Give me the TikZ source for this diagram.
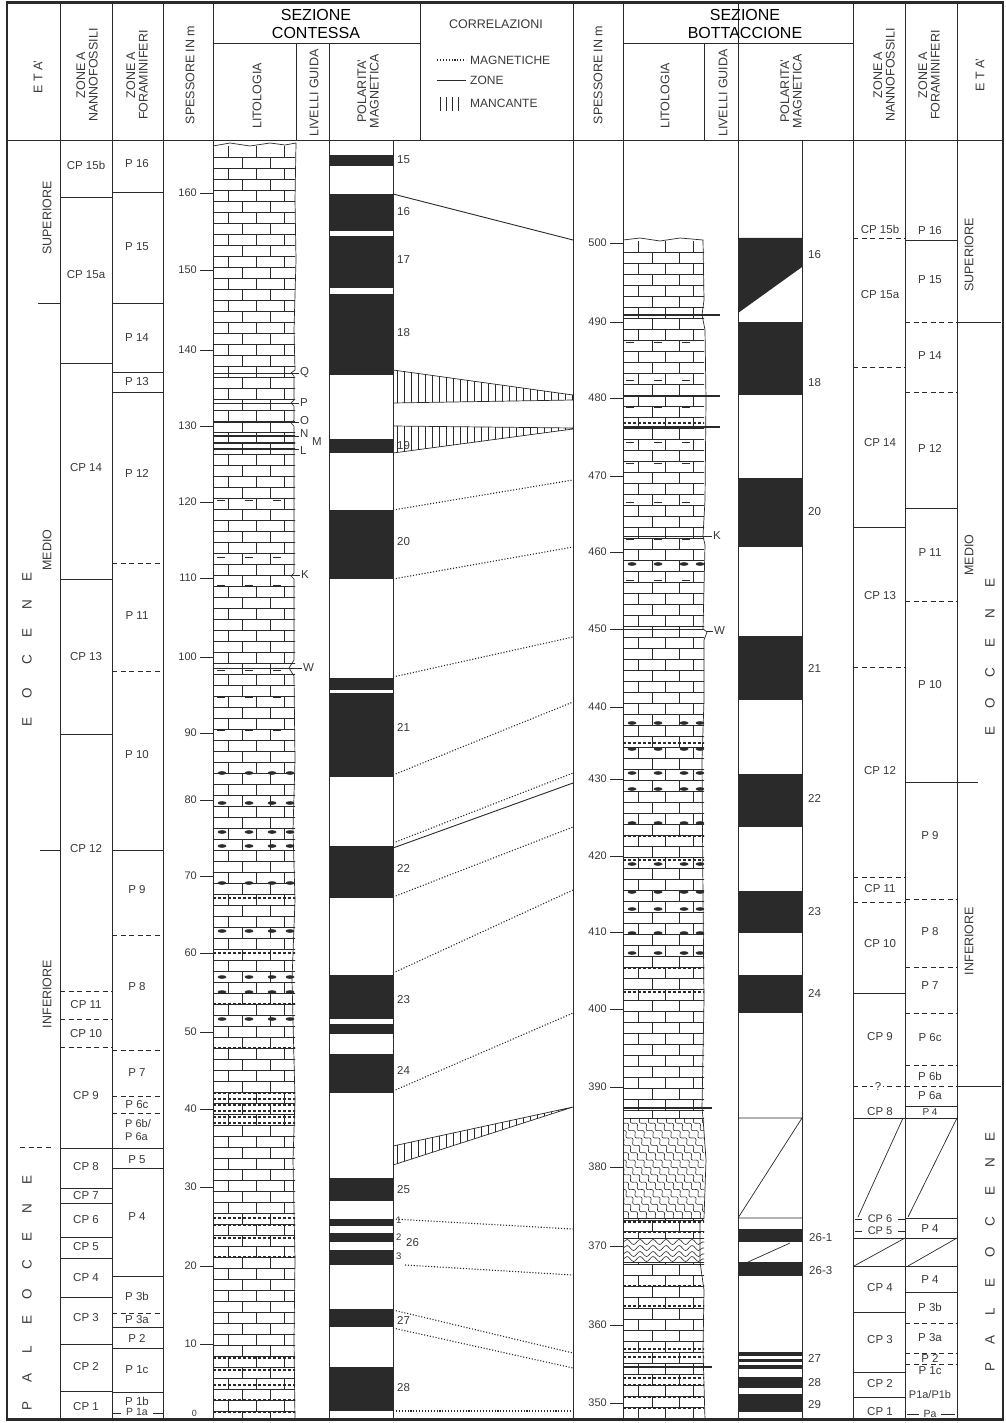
\documentclass[tikz,border=0pt]{standalone}
\usepackage{fontspec}
\setmainfont{Liberation Sans}
\usetikzlibrary{decorations.pathmorphing}
\definecolor{ink}{HTML}{2A2A2A}
\definecolor{txt}{HTML}{3A3A3A}
\begin{document}
\begin{tikzpicture}[x=1pt,y=-1pt,
  ln/.style={draw=ink,line width=0.7pt},
  br/.style={draw=ink,line width=0.55pt},
  bd/.style={draw=ink,line width=0.9pt},
  dsh/.style={draw=ink,line width=0.9pt,dash pattern=on 5pt off 3.5pt},
  dotl/.style={draw=ink,line width=1.1pt,dash pattern=on 1.1pt off 1.8pt},
  zl/.style={font=\fontsize{11.5}{12}\selectfont,text=txt,inner sep=0pt},
  tk/.style={font=\fontsize{11}{11}\selectfont,text=txt,anchor=east,inner sep=0pt},
  pl/.style={font=\fontsize{11.5}{12}\selectfont,text=txt,anchor=west,inner sep=0pt},
  gl/.style={font=\fontsize{11.5}{12}\selectfont,text=txt,anchor=west,inner sep=0pt},
  hd/.style={font=\fontsize{12.5}{12.5}\selectfont,text=txt,rotate=90,align=center,inner sep=0pt},
  sez/.style={font=\fontsize{16}{18}\selectfont,text=black,align=center,inner sep=0pt},
  leg/.style={font=\fontsize{12}{12}\selectfont,text=txt,anchor=west,inner sep=0pt},
  eta/.style={font=\fontsize{12.5}{12.5}\selectfont,text=txt,rotate=90,inner sep=0pt},
  ep/.style={font=\fontsize{13.5}{13.5}\selectfont,text=txt,rotate=90,inner sep=0pt},
  blk/.style={fill=ink},
  hatchl/.style={draw=ink,line width=0.6pt},
  chert/.style={fill=ink},
  mdash/.style={draw=ink,line width=1.3pt,dash pattern=on 3pt off 2pt}]
\useasboundingbox (0,0) rectangle (1005,1423);
\fill[white] (0,0) rectangle (1005,1423);

% ================= LEFT LITHOLOGY (Contessa) =================
\begin{scope}
\clip (213,146) rectangle (295,1420);
\foreach \k in {0,...,115}{
  \pgfmathsetmacro\ya{146+11*\k}
  \pgfmathsetmacro\yb{\ya+11}
  \draw[br] (213,\yb)--(296,\yb);
  \ifodd\k\relax
    \draw[br] (242,\ya)--(242,\yb) (270,\ya)--(270,\yb);
  \else
    \draw[br] (228,\ya)--(228,\yb) (256,\ya)--(256,\yb) (284,\ya)--(284,\yb);
  \fi
}
\foreach \y in {245,267,500,557,585,670,697,730}
  \foreach \x in {221,249,277} \draw[br,line width=0.8pt] (\x-4,\y)--(\x+4,\y);
\foreach \y in {773,803,832,846,883,931,977,992,1019}
  \foreach \x in {222,249,272,290} \fill[chert] (\x,\y) ellipse (4.5 and 1.8);
\foreach \y in {898,953,1004,1048,1093,1099,1105,1111,1117,1123,1218,1225,1238,1257,1358,1370,1385,1400,1412}
  \draw[mdash] (213,\y)--(296,\y);
\draw[bd] (213,373)--(296,373) (213,403)--(296,403) (213,422)--(296,422) (213,575)--(296,575) (213,668)--(296,668);
\draw[draw=ink,line width=1.6pt] (213,436)--(296,436) (213,443)--(296,443) (213,449)--(296,449);
\end{scope}
\draw[ln] (213,146)--(230,143)--(250,146)--(270,143)--(285,145)--(296,143)
  --(295,200)--(296,260)--(294,330)--(295,370)--(291,373)--(294,376)--(294,400)--(291,403)--(294,406)
  --(294,420)--(291,423)--(294,426)--(294,573)--(291,576)--(294,579)--(294,660)--(289,668)--(294,676)
  --(295,760)--(293,830)--(295,900)--(292,980)--(295,1100)--(293,1160)--(295,1260)--(294,1340)--(295,1420);

\draw[ln] (294,373)--(299,373) (294,403)--(299,403) (294,422)--(299,422) (294,436)--(299,436) (294,449)--(299,449) (294,575)--(300,575) (290,668)--(302,668);
\node[gl] (gQ) at (300,373) {Q};
\node[gl] (gP) at (300,403) {P};
\node[gl] (gO) at (300,421) {O};
\node[gl] (gN) at (300,434) {N};
\node[gl] (gM) at (312,442) {M};
\node[gl] (gL) at (300,451) {L};
\node[gl] (gK) at (301,575) {K};
\node[gl] (gW) at (303,668) {W};

% ================= RIGHT LITHOLOGY (Bottaccione) =================
\begin{scope}
\clip (623,241) rectangle (704,1420);
\foreach \k in {0,...,107}{
  \pgfmathsetmacro\ya{241+11*\k}
  \pgfmathsetmacro\yb{\ya+11}
  \draw[br] (623,\yb)--(706,\yb);
  \ifodd\k\relax
    \draw[br] (652,\ya)--(652,\yb) (679,\ya)--(679,\yb);
  \else
    \draw[br] (638,\ya)--(638,\yb) (665,\ya)--(665,\yb) (693,\ya)--(693,\yb);
  \fi
}
\foreach \y in {342,351,380,407,442,463,502,539,580}
  \foreach \x in {630,658,686} \draw[br,line width=0.8pt] (\x-4,\y)--(\x+4,\y);
\foreach \y in {564,723,749,773,789,823,864,892,909,933,953}
  \foreach \x in {632,658,684,700} \fill[chert] (\x,\y) ellipse (4.5 and 1.8);
\foreach \y in {423,743,836,860,968,992,1222,1232,1286,1306,1349,1357,1378,1385,1397,1408}
  \draw[mdash] (623,\y)--(706,\y);
\fill[white] (623,1118) rectangle (706,1218);
\begin{scope}
\clip (623,1118) rectangle (706,1218);
\foreach \s in {-120,-111,...,90}
  \draw[draw=ink,line width=0.6pt,decorate,decoration={snake,amplitude=2pt,segment length=10pt}] (623+\s,1108) -- (733+\s,1228);
\end{scope}
\fill[white] (623,1238) rectangle (706,1262);
\foreach \y in {1242,1248,1254,1259}
  \draw[draw=ink,line width=0.6pt,decorate,decoration={snake,amplitude=2.5pt,segment length=13pt}] (623,\y)--(706,\y);
\draw[bd] (623,1118)--(706,1118) (623,1218)--(706,1218) (623,1238)--(706,1238) (623,1262)--(706,1262) (623,536)--(706,536) (623,629)--(706,629);
\draw[draw=ink,line width=1.6pt] (623,315)--(706,315) (623,396)--(706,396) (623,427)--(706,427) (623,1108)--(706,1108) (623,1367)--(706,1367);
\end{scope}
\draw[ln] (623,240)--(640,238)--(660,241)--(680,238)--(703,240)--(704,300)--(702,315)--(705,330)--(706,400)
  --(705,500)--(703,536)--(705,545)--(703,629)--(707,632)--(704,640)--(704,700)--(702,760)--(703,900)
  --(704,1000)--(702,1108)--(703,1118)--(706,1160)--(704,1218)--(700,1222)--(700,1262)--(704,1290)--(703,1350)--(705,1420);
\draw[draw=ink,line width=1.6pt] (703,315)--(720,315) (703,396)--(720,396) (703,427)--(720,427) (703,1108)--(712,1108) (703,1367)--(712,1367);
\draw[ln] (704,536)--(712,536) (707,631)--(713,631);
\node[gl] (rK) at (713,536) {K};
\node[gl] (rW) at (714,631) {W};

% ================= GRID LINES =================
\foreach \x in {60,112,163,213,573,623,738,853,905,957} \draw[ln] (\x,3)--(\x,1418);
\draw[ln] (420,3)--(420,140);
\draw[ln] (296,43)--(296,140) (329,43)--(329,140) (704,43)--(704,140);
\draw[ln] (329,140)--(329,1418) (393,140)--(393,1418) (802,140)--(802,1418);
\draw[ln] (8,140)--(1003,140);
\draw[ln] (213,43)--(420,43) (623,43)--(853,43);

% ================= HEADER TEXT =================
\node[hd] (hEtaL) at (38,77) {E T A'};
\node[hd] (hNanL) at (87,75) {ZONE A\\NANNOFOSSILI};
\node[hd] (hForL) at (137,75) {ZONE A\\FORAMINIFERI};
\node[hd] (hSpeL) at (190,75) {SPESSORE IN m};
\node[sez] (hSezL) at (316,24) {SEZIONE\\CONTESSA};
\node[hd] (hLitL) at (257,96) {LITOLOGIA};
\node[hd] (hLivL) at (314,93) {LIVELLI GUIDA};
\node[hd] (hPolL) at (368,91) {POLARITA'\\MAGNETICA};
\node[leg,anchor=center,font=\fontsize{12.5}{12.5}\selectfont] (hCor) at (496,24) {CORRELAZIONI};
\draw[dotl] (437,60)--(466,60);
\draw[bd] (437,80)--(466,80);
\foreach \x in {440,446,452,458} \draw[hatchl] (\x,97)--(\x,111);
\node[leg] (lMag) at (470,60) {MAGNETICHE};
\node[leg] (lZon) at (470,80) {ZONE};
\node[leg] (lMan) at (470,103) {MANCANTE};
\node[hd] (hSpeR) at (598,75) {SPESSORE IN m};
\node[sez] (hSezR) at (745,24) {SEZIONE\\BOTTACCIONE};
\node[hd] (hLitR) at (665,96) {LITOLOGIA};
\node[hd] (hLivR) at (723,93) {LIVELLI GUIDA};
\node[hd] (hPolR) at (791,91) {POLARITA'\\MAGNETICA};
\node[hd] (hNanR) at (884,75) {ZONE A\\NANNOFOSSILI};
\node[hd] (hForR) at (929,75) {ZONE A\\FORAMINIFERI};
\node[hd] (hEtaR) at (980,75) {E T A'};

% ================= THICKNESS SCALES =================
\foreach \v/\y in {160/193,150/270,140/350,130/426,120/502,110/578,100/657,90/733,80/800,70/876,60/953,50/1032,40/1109,30/1187,20/1266,10/1344}{
  \node[tk] (tl\v) at (197,\y) {\v};
  \draw[ln] (200,\y)--(213,\y);
}
\node[tk,font=\fontsize{9}{9}\selectfont] (tl0) at (197,1413) {0};
\foreach \v/\y in {500/243,490/322,480/398,470/476,460/552,450/629,440/707,430/779,420/856,410/932,400/1009,390/1087,380/1167,370/1246,360/1325,350/1403}{
  \node[tk] (tr\v) at (607,\y) {\v};
  \draw[ln] (610,\y)--(623,\y);
}

% ================= POLARITY LEFT =================
\foreach \a/\b in {155/166,194/231,236/288,294/375,439/453,510/579,678/690,693/777,846/898,975/1019,1024/1034,1054/1093,1178/1201,1219/1226,1233/1242,1250/1265,1309/1327,1367/1411}
  \fill[blk] (329,\a) rectangle (393,\b);
\foreach \t/\y [count=\i] in {15/160,16/212,17/260,18/333,19/446,20/542,21/727,22/868,23/1000,24/1070,25/1190,27/1320,28/1388}
  \node[pl] (pL\i) at (397,\y) {\t};
\node[pl,font=\fontsize{9.5}{9.5}\selectfont] (pL1a) at (396,1220) {1};
\node[pl,font=\fontsize{9.5}{9.5}\selectfont] (pL2a) at (396,1237) {2};
\node[pl] (pL26) at (406,1243) {26};
\node[pl,font=\fontsize{9.5}{9.5}\selectfont] (pL3a) at (396,1256) {3};

% ================= POLARITY RIGHT =================
\fill[blk] (738,238)--(802,238)--(802,267)--(738,313)--cycle;
\foreach \a/\b in {322/395,478/547,636/700,774/827,891/933,975/1013,1229/1242,1262/1276,1352/1356,1359/1362,1365/1369,1377/1388,1394/1412}
  \fill[blk] (738,\a) rectangle (802,\b);
\draw[ln] (738,1118)--(802,1118) (738,1218)--(802,1218) (738,1218)--(802,1118) (748,1262)--(790,1243);
\foreach \t/\y [count=\i] in {16/255,18/383,20/512,21/668,22/798,23/912,24/993,27/1358,28/1383,29/1405}
  \node[pl] (pR\i) at (808,\y) {\t};
\node[pl] (pR261) at (809,1238) {26-1};
\node[pl] (pR263) at (809,1271) {26-3};

% ================= CORRELATIONS =================
\begin{scope}
\clip (393,370)--(573,395)--(573,400)--(393,403)--cycle;
\foreach \x in {397,404,...,573} \draw[hatchl] (\x,360)--(\x,410);
\end{scope}
\draw[ln] (393,370)--(573,395) (393,403)--(573,400) (573,395)--(573,400);
\begin{scope}
\clip (393,426)--(573,428)--(573,429)--(393,453)--cycle;
\foreach \x in {397,404,...,573} \draw[hatchl] (\x,420)--(\x,460);
\end{scope}
\draw[ln] (393,426)--(573,428) (393,453)--(573,429);
\begin{scope}
\clip (393,1146)--(573,1107)--(393,1165)--cycle;
\foreach \x in {397,404,...,573} \draw[hatchl] (\x,1100)--(\x,1170);
\end{scope}
\draw[ln] (393,1146)--(573,1107) (393,1165)--(573,1107);
\foreach \i/\ya/\yb in {1/510/480,2/579/547,3/677/637,4/775/702,5/843/773,6/897/827,7/973/890,8/1091/1013,9/1219/1229,10/1310/1353,11/1328/1368,12/1411/1411}{
  \coordinate (cl\i) at (393,\ya);
  \coordinate (cr\i) at (573,\yb);
  \draw[dotl] (cl\i)--(cr\i);
}
\coordinate (cl13) at (405,1265); \coordinate (cr13) at (573,1275);
\draw[dotl] (cl13)--(cr13);
\coordinate (sl1) at (393,194); \coordinate (sr1) at (573,240);
\coordinate (sl2) at (393,848); \coordinate (sr2) at (573,783);
\draw[bd] (sl1)--(sr1) (sl2)--(sr2);

% ================= LEFT NANNO ZONES =================
\foreach \y in {197,363,579,734,1148,1188,1203,1237,1258,1297,1344,1391} \draw[bd] (60,\y)--(112,\y);
\foreach \y in {991,1019,1047} \draw[dsh] (60,\y)--(112,\y);
\foreach \t/\y [count=\i] in {CP 15b/165,CP 15a/275,CP 14/468,CP 13/657,CP 12/849,CP 11/1005,CP 10/1034,CP 9/1096,CP 8/1167,CP 7/1196,CP 6/1220,CP 5/1247,CP 4/1278,CP 3/1318,CP 2/1367,CP 1/1407}
  \node[zl] (nL\i) at (86,\y) {\t};

% ================= LEFT FORAM ZONES =================
\foreach \y in {192,303,372,392,850,1148,1168,1276,1327,1348,1392} \draw[bd] (112,\y)--(163,\y);
\foreach \y in {563,671,935,1050,1096,1113,1313} \draw[dsh] (112,\y)--(163,\y);
\foreach \t/\y [count=\i] in {P 16/164,P 15/247,P 14/338,P 13/382,P 12/473,P 11/616,P 10/755,P 9/890,P 8/987,P 7/1073,P 6c/1105,P 5/1160,P 4/1217,P 3b/1296,P 3a/1320,P 2/1338,P 1c/1370,P 1b/1401}
  \node[zl] (fL\i) at (137,\y) {\t};
\node[zl,align=left,font=\fontsize{11}{12.5}\selectfont] (fL6ba) at (138,1130) {P 6b/\\P 6a};
\node[zl,font=\fontsize{10.5}{11}\selectfont] (fL1a) at (137,1412) {P 1a};
\draw[bd] (112,1413)--(121,1413) (153,1413)--(163,1413);

% ================= LEFT ETA =================
\node[eta] (eSupL) at (47,218) {SUPERIORE};
\draw[bd] (38,303)--(60,303);
\node[eta] (eMedL) at (47,550) {MEDIO};
\draw[bd] (40,850)--(60,850);
\node[eta] (eInfL) at (47,994) {INFERIORE};
\draw[dsh] (20,1147)--(52,1147);
\foreach \t/\y [count=\i] in {E/577,N/605,E/633,C/660,O/693,E/722}
  \node[ep] (eoL\i) at (27,\y) {\t};
\foreach \t/\y [count=\i] in {E/1180,N/1209,E/1237,C/1265,O/1294,E/1320,L/1350,A/1378,P/1406}
  \node[ep] (paL\i) at (27,\y) {\t};

% ================= RIGHT NANNO ZONES =================
\foreach \y in {527,993,1118,1238,1266,1312,1372,1397} \draw[bd] (853,\y)--(905,\y);
\foreach \y in {238,367,667,877,902} \draw[dsh] (853,\y)--(905,\y);
\draw[dsh] (853,1086)--(905,1086);
\draw[ln] (903,1118)--(858,1217) (905,1238)--(854,1266);
\foreach \t/\y [count=\i] in {CP 15b/229,CP 15a/295,CP 14/443,CP 13/596,CP 12/771,CP 11/889,CP 10/944,CP 9/1037,CP 8/1112,CP 4/1288,CP 3/1340,CP 2/1384,CP 1/1412}
  \node[zl] (nR\i) at (880,\y) {\t};
\node[zl,fill=white,inner sep=1.5pt] (nRq) at (878,1086) {?};
\node[zl,fill=white,inner sep=0.5pt,font=\fontsize{11}{11}\selectfont] (nR6) at (880,1219) {CP 6};
\node[zl,fill=white,inner sep=0.5pt,font=\fontsize{11}{11}\selectfont] (nR5) at (880,1231) {CP 5};
\draw[bd] (855,1219)--(862,1219) (898,1219)--(905,1219) (855,1231)--(862,1231) (898,1231)--(905,1231);

% ================= RIGHT FORAM ZONES =================
\foreach \y in {240,508,1106,1118,1218,1238,1266,1292} \draw[bd] (905,\y)--(957,\y);
\draw[bd] (905,782)--(978,782);
\foreach \y in {322,392,601,899,967,1013,1065,1086,1323,1353,1364} \draw[dsh] (905,\y)--(957,\y);
\draw[ln] (957,1118)--(908,1217) (957,1238)--(908,1266);
\foreach \t/\y [count=\i] in {P 16/231,P 15/280,P 14/356,P 12/448,P 11/553,P 10/685,P 9/836,P 8/932,P 7/986,P 6c/1038,P 6b/1076,P 6a/1096,P 4/1229,P 4/1280,P 3b/1307,P 3a/1338,P 2/1358,P 1c/1371}
  \node[zl] (fR\i) at (930,\y) {\t};
\node[zl,font=\fontsize{10}{10}\selectfont] (fR4a) at (930,1112) {P 4};
\node[zl,font=\fontsize{11}{11}\selectfont] (fR1ab) at (930,1395) {P1a/P1b};
\node[zl,font=\fontsize{10.5}{11}\selectfont] (fRa) at (930,1414) {Pa};
\draw[bd] (907,1414)--(919,1414) (941,1414)--(955,1414);

% ================= RIGHT ETA =================
\node[eta] (eSupR) at (969,255) {SUPERIORE};
\draw[bd] (957,322)--(1001,322);
\node[eta] (eMedR) at (969,555) {MEDIO};
\node[eta] (eInfR) at (969,941) {INFERIORE};
\draw[bd] (957,1086)--(1001,1086);
\foreach \t/\y [count=\i] in {E/583,N/614,E/643,C/673,O/703,E/731}
  \node[ep] (eoR\i) at (990,\y) {\t};
\foreach \t/\y [count=\i] in {E/1137,N/1163,E/1191,C/1222,O/1252,E/1283,L/1312,A/1340,P/1367}
  \node[ep] (paR\i) at (990,\y) {\t};

% ================= BORDER =================
\draw[draw=ink,line width=2.4pt] (7,2.5) rectangle (1003,1419.5);
\end{tikzpicture}
\end{document}
